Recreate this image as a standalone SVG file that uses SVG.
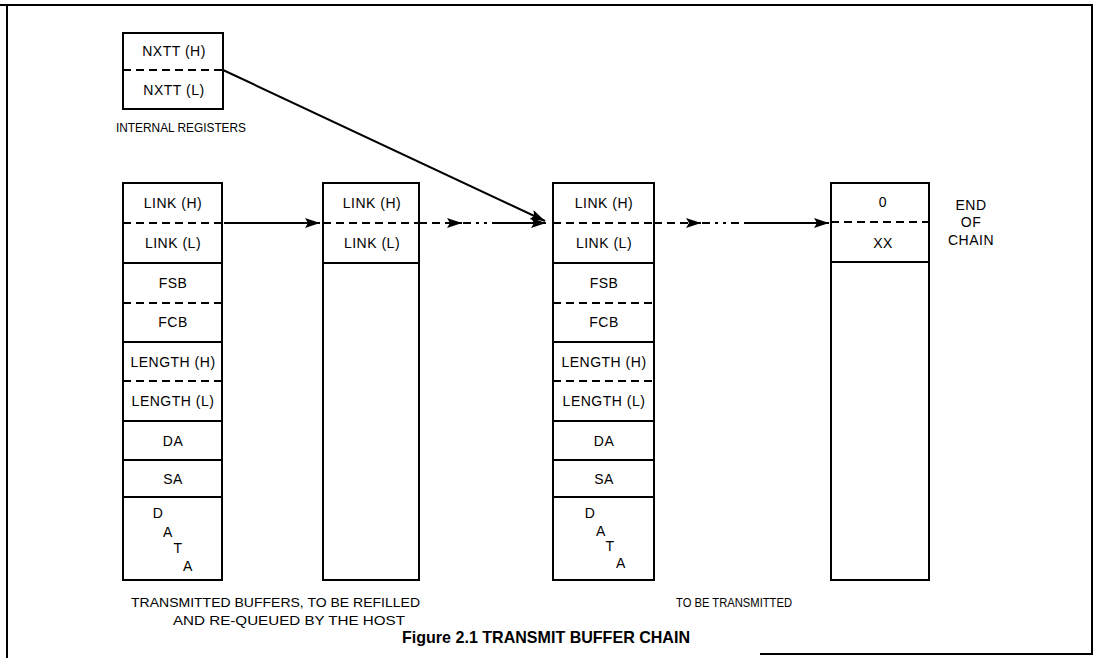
<svg xmlns="http://www.w3.org/2000/svg" width="1098" height="658" viewBox="0 0 1098 658">
  <style>
    .box { fill: none; stroke: #000; stroke-width: 2; }
    .sep { stroke: #000; stroke-width: 2; }
    .dash { stroke: #000; stroke-width: 2; stroke-dasharray: 8 5; }
    .conn { stroke: #000; stroke-width: 2; fill: none; }
    .dd { stroke: #000; stroke-width: 2; fill: none; stroke-dasharray: 8 5 3 5 3 5; }
    text { font-family: "Liberation Sans", Arial, sans-serif; font-size: 14px; fill: #000; }
    .c { text-anchor: middle; letter-spacing: 0.5px; }
    .cap { font-size: 13px; }
    .title { font-size: 17px; font-weight: bold; }
  </style>
  <defs>
    <marker id="arr" markerUnits="userSpaceOnUse" markerWidth="16" markerHeight="10" refX="15" refY="5" orient="auto">
      <path d="M0,0 L15,5 L0,10 L3,5 z" fill="#000"/>
    </marker>
  </defs>
  <rect width="1098" height="658" fill="#fff"/>

  <g id="frame">
    <path d="M0,5 H1092 V654 H760" class="conn"/>
    <line x1="7" y1="5" x2="7" y2="658" class="sep"/>
  </g>

  <g id="nxtt">
    <rect x="123" y="33" width="100" height="76" class="box"/>
    <line x1="123" y1="70" x2="223" y2="70" class="dash"/>
    <text x="174" y="56" class="c">NXTT (H)</text>
    <text x="174" y="95" class="c">NXTT (L)</text>
    <text x="116" y="132" class="cap" textLength="130" lengthAdjust="spacingAndGlyphs">INTERNAL REGISTERS</text>
  </g>

  <g id="buffer1">
    <rect x="123" y="183" width="99" height="397" class="box"/>
    <line x1="123" y1="223" x2="222" y2="223" class="dash"/>
    <line x1="123" y1="263" x2="222" y2="263" class="sep"/>
    <line x1="123" y1="303" x2="222" y2="303" class="dash"/>
    <line x1="123" y1="342" x2="222" y2="342" class="sep"/>
    <line x1="123" y1="381" x2="222" y2="381" class="dash"/>
    <line x1="123" y1="421" x2="222" y2="421" class="sep"/>
    <line x1="123" y1="460" x2="222" y2="460" class="sep"/>
    <line x1="123" y1="497" x2="222" y2="497" class="sep"/>
    <text x="173" y="208" class="c">LINK (H)</text>
    <text x="173" y="248" class="c">LINK (L)</text>
    <text x="173" y="288" class="c">FSB</text>
    <text x="173" y="327" class="c">FCB</text>
    <text x="173" y="367" class="c">LENGTH (H)</text>
    <text x="173" y="406" class="c">LENGTH (L)</text>
    <text x="173" y="446" class="c">DA</text>
    <text x="173" y="484" class="c">SA</text>
    <text x="158" y="518" class="c">D</text>
    <text x="168" y="537" class="c">A</text>
    <text x="178" y="553" class="c">T</text>
    <text x="188" y="571" class="c">A</text>
  </g>

  <g id="buffer2">
    <rect x="323" y="183" width="96" height="397" class="box"/>
    <line x1="323" y1="223" x2="419" y2="223" class="dash"/>
    <line x1="323" y1="263" x2="419" y2="263" class="sep"/>
    <text x="372" y="208" class="c">LINK (H)</text>
    <text x="372" y="248" class="c">LINK (L)</text>
  </g>

  <g id="buffer3">
    <rect x="553" y="183" width="101" height="397" class="box"/>
    <line x1="553" y1="223" x2="654" y2="223" class="dash"/>
    <line x1="553" y1="263" x2="654" y2="263" class="sep"/>
    <line x1="553" y1="303" x2="654" y2="303" class="dash"/>
    <line x1="553" y1="342" x2="654" y2="342" class="sep"/>
    <line x1="553" y1="381" x2="654" y2="381" class="dash"/>
    <line x1="553" y1="421" x2="654" y2="421" class="sep"/>
    <line x1="553" y1="460" x2="654" y2="460" class="sep"/>
    <line x1="553" y1="497" x2="654" y2="497" class="sep"/>
    <text x="604" y="208" class="c">LINK (H)</text>
    <text x="604" y="248" class="c">LINK (L)</text>
    <text x="604" y="288" class="c">FSB</text>
    <text x="604" y="327" class="c">FCB</text>
    <text x="604" y="367" class="c">LENGTH (H)</text>
    <text x="604" y="406" class="c">LENGTH (L)</text>
    <text x="604" y="446" class="c">DA</text>
    <text x="604" y="484" class="c">SA</text>
    <text x="590" y="518" class="c">D</text>
    <text x="601" y="536" class="c">A</text>
    <text x="610" y="551" class="c">T</text>
    <text x="621" y="568" class="c">A</text>
  </g>

  <g id="buffer4">
    <rect x="831" y="183" width="98" height="397" class="box"/>
    <line x1="831" y1="222" x2="929" y2="222" class="dash"/>
    <line x1="831" y1="262" x2="929" y2="262" class="sep"/>
    <text x="883" y="207" class="c">0</text>
    <text x="883" y="248" class="c">XX</text>
    <text x="971" y="210" class="c">END</text>
    <text x="971" y="227" class="c">OF</text>
    <text x="971" y="245" class="c">CHAIN</text>
  </g>

  <g id="connectors">
    <line x1="223" y1="70" x2="545" y2="221" class="conn" marker-end="url(#arr)"/>
    <line x1="224" y1="223" x2="320" y2="223" class="conn" marker-end="url(#arr)"/>
    <line x1="419" y1="223" x2="462" y2="223" class="dash" marker-end="url(#arr)"/>
    <line x1="463" y1="223" x2="498" y2="223" class="dd"/>
    <line x1="498" y1="223" x2="546" y2="223" class="conn" marker-end="url(#arr)"/>
    <line x1="654" y1="223" x2="701" y2="223" class="dash" marker-end="url(#arr)"/>
    <line x1="702" y1="223" x2="747" y2="223" class="dd"/>
    <line x1="747" y1="223" x2="829" y2="223" class="conn" marker-end="url(#arr)"/>
  </g>

  <g id="captions">
    <text x="131" y="607" class="cap" textLength="289" lengthAdjust="spacingAndGlyphs">TRANSMITTED BUFFERS, TO BE REFILLED</text>
    <text x="173" y="625" class="cap" textLength="232" lengthAdjust="spacingAndGlyphs">AND RE-QUEUED BY THE HOST</text>
    <text x="676" y="607" class="cap" textLength="116" lengthAdjust="spacingAndGlyphs">TO BE TRANSMITTED</text>
    <text x="402" y="643" class="title" textLength="288" lengthAdjust="spacingAndGlyphs">Figure 2.1 TRANSMIT BUFFER CHAIN</text>
  </g>
</svg>
